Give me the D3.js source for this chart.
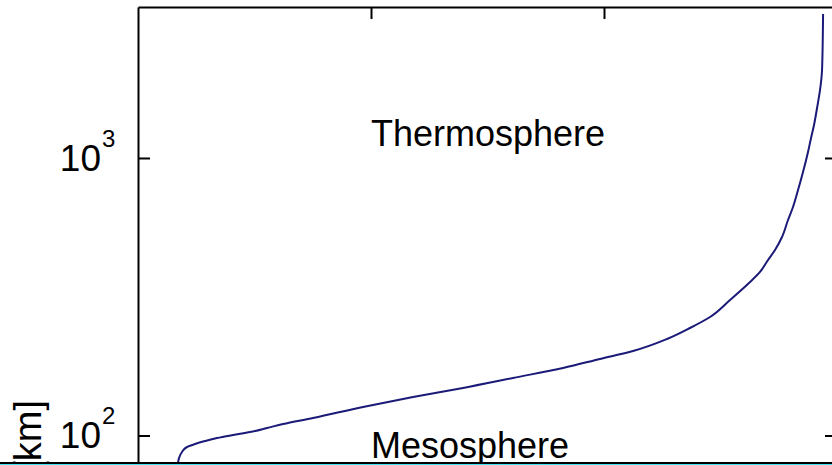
<!DOCTYPE html>
<html>
<head>
<meta charset="utf-8">
<script src="https://cdn.jsdelivr.net/npm/d3@7"></script>
<style>
    body {margin: 0; background: #fff;}
    svg {display: block; overflow: hidden;}
    text {font-family: "Liberation Sans", Arial, sans-serif; fill: #000;}
</style>
</head>
<body>
<div id="main"></div>
<script>
// temperature [K] vs altitude [km]
let temperature = [85.8, 88.0, 94.4, 105.2, 122.3, 143.8, 169.5, 203.9, 240.4, 276.8,
    311.2, 375.6, 482.9, 590.2, 697.5, 804.8, 912.1, 991.5, 1062.3, 1135.2,
    1184.6, 1227.5, 1270.4, 1313.4, 1334.8, 1352.0, 1367.0, 1382.0, 1394.9, 1405.6,
    1416.4, 1427.1, 1437.8, 1444.3, 1450.7, 1457.2, 1463.6, 1467.9, 1470.1]
let altitude = [79.6, 82.9, 87.2, 90.9, 93.2, 95.5, 97.9, 100.4, 102.9, 106.4,
    110.0, 115.6, 126.7, 137.6, 148.4, 161.2, 175.1, 188.7, 201.6, 222.7,
    244.0, 267.3, 307.8, 357.4, 388.4, 429.0, 466.1, 519.1, 597.7, 665.9,
    766.7, 890.3, 1051, 1180, 1315, 1514, 1758, 2075, 3303]

let xDomain = [0, 1500]
let yDomain = [10, 3500]
let xTicks = [500, 1000]
let yTicks = [100, 1000]
let yTickExp = ["2", "3"]

let layers = ["Thermosphere", "Mesosphere"]
let layerT = [500, 500]
let layerAlt = [1105, 83]

let yLabel = "Altitude [km]"

function graphData() {
    let W = 832, H = 465
    let svg = d3.select("#main").append("svg")
        .attr("width", W)
        .attr("height", H)

    let scX = d3.scaleLinear().domain(xDomain).range([138, 837])
    let scY = d3.scaleLog().domain(yDomain).range([713, 7])

    // the curve
    let makeLine = d3.line()
        .x((d, i) => scX(temperature[i]))
        .y(d => scY(d))
        .curve(d3.curveMonotoneY)
    svg.append("path")
        .attr("d", makeLine(altitude))
        .attr("fill", "none")
        .attr("stroke", "#1b1a78")
        .attr("stroke-width", 2)

    // axes, ticks pointing inward
    let styleAxis = g => {
        g.selectAll("path, line").attr("stroke", "#000").attr("stroke-width", 2)
        g.selectAll("text").remove()
    }
    svg.append("g").attr("transform", "translate(138 0)")
        .call(d3.axisLeft(scY).tickValues(yTicks).tickSizeInner(-12).tickSizeOuter(0))
        .call(styleAxis)
    svg.append("g").attr("transform", "translate(837 0)")
        .call(d3.axisRight(scY).tickValues(yTicks).tickSizeInner(-12).tickSizeOuter(0))
        .call(styleAxis)
    svg.append("g").attr("transform", "translate(0 7)")
        .call(d3.axisTop(scX).tickValues(xTicks).tickSizeInner(-12).tickSizeOuter(0))
        .call(styleAxis)
    svg.append("g").attr("transform", "translate(0 713)")
        .call(d3.axisBottom(scX).tickValues(xTicks).tickSizeInner(-12).tickSizeOuter(0))
        .call(styleAxis)

    // 10^n tick labels
    yTicks.forEach((v, i) => {
        svg.append("text")
            .attr("x", 101)
            .attr("y", scY(v) + 13)
            .attr("text-anchor", "end")
            .attr("font-size", 37)
            .text("10")
        svg.append("text")
            .attr("x", 102)
            .attr("y", scY(v) - 11)
            .attr("font-size", 24)
            .text(yTickExp[i])
    })

    svg.append("text")
        .attr("transform", "translate(41 400) rotate(-90)")
        .attr("text-anchor", "end")
        .attr("font-size", 38)
        .text(yLabel)

    layers.forEach((name, i) => {
        svg.append("text")
            .attr("x", scX(layerT[i]))
            .attr("y", scY(layerAlt[i]))
            .attr("font-size", 36)
            .text(name)
    })

    // window border at the bottom of the crop
    svg.append("rect").attr("x", 0).attr("y", 462).attr("width", W).attr("height", 2).attr("fill", "#000")
    svg.append("rect").attr("x", 0).attr("y", 464).attr("width", W).attr("height", 1).attr("fill", "#3fe3f2")
}

graphData()
</script>
</body>
</html>
